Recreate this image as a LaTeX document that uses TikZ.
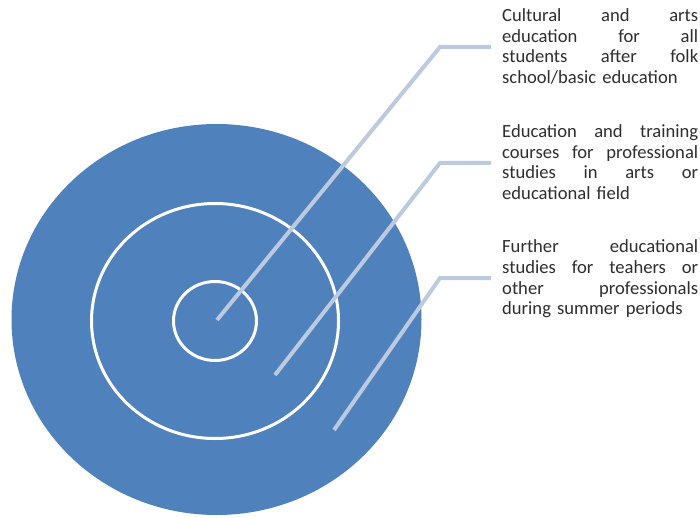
\documentclass[tikz,border=0pt]{standalone}
\usepackage{fontspec}
\setmainfont{Carlito}
\usetikzlibrary{shapes.geometric}
\definecolor{disc}{HTML}{4F81BD}
\definecolor{leader}{HTML}{BCCAE0}
\definecolor{txt}{HTML}{2E2E2E}
\begin{document}
\begin{tikzpicture}[x=1pt,y=-1pt,
  ring/.style={ellipse, draw=white, line width=3pt, inner sep=0pt},
  lead/.style={draw=leader, line width=4pt},
  caption/.style={text width=196pt, inner sep=0pt, anchor=base west,
    font=\fontsize{18.6}{20.5}\selectfont, text=txt, align=left}]
\useasboundingbox (0,0) rectangle (700,518);
\node[ellipse, fill=disc, minimum width=410pt, minimum height=391pt, inner sep=0pt] (outer) at (216.5,319.5) {};
\node[ring, minimum width=247pt, minimum height=235pt] (middle) at (215,321) {};
\node[ring, minimum width=83pt, minimum height=79pt] (inner) at (215,321) {};
\coordinate (p1) at (217,320);
\coordinate (k1) at (440,47);
\coordinate (e1) at (491,47);
\coordinate (p2) at (275,375);
\coordinate (k2) at (440,163);
\coordinate (e2) at (491,163);
\coordinate (p3) at (334,430);
\coordinate (k3) at (440,278);
\coordinate (e3) at (491,278);
\draw[lead] (p1) -- (k1) -- (e1);
\draw[lead] (p2) -- (k2) -- (e2);
\draw[lead] (p3) -- (k3) -- (e3);
\node[caption] (t1) at (502,22) {Cultural\hfill and\hfill arts\\education\hfill for\hfill all\\students\hfill after\hfill folk\\school/basic education};
\node[caption] (t2) at (502,138) {Education\hfill and\hfill training\\courses\hfill for\hfill professional\\studies\hfill in\hfill arts\hfill or\\educational field};
\node[caption] (t3) at (502,253) {Further\hfill educational\\studies\hfill for\hfill teahers\hfill or\\other\hfill professionals\\during summer periods};
\end{tikzpicture}
\end{document}
